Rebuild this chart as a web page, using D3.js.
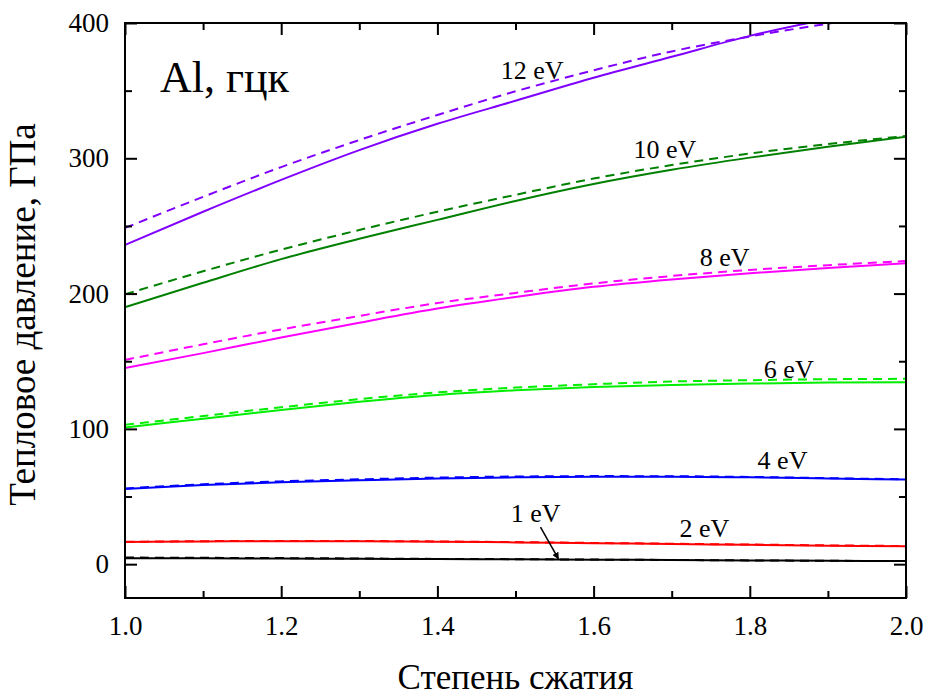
<!DOCTYPE html>
<html>
<head>
<meta charset="utf-8">
<script src="https://cdn.jsdelivr.net/npm/d3@7"></script>
<style>
  body { margin: 0; background: #fff; }
  text { font-family: "Times New Roman", Times, "DejaVu Serif"; }
</style>
</head>
<body>
<div id="chart"></div>
<script>
// Compression ratio (x) and thermal pressure in GPa (y)
const compression = [1.0, 1.1, 1.2, 1.3, 1.4, 1.5, 1.6, 1.7, 1.8, 1.9, 2.0];

const p1eV       = [4.3, 4.3, 4.2, 4.0, 3.8, 3.6, 3.3, 3.1, 2.8, 2.5, 2.3];
const p1eVDash   = [4.9, 4.7, 4.5, 4.2, 3.9, 3.7, 3.4, 3.1, 2.8, 2.5, 2.3];
const p2eV       = [16.3, 16.8, 17.0, 16.9, 16.6, 16.1, 15.5, 14.9, 14.3, 13.7, 13.2];
const p2eVDash   = [16.5, 17.0, 17.2, 17.1, 16.8, 16.3, 15.7, 15.1, 14.5, 13.9, 13.4];
const p4eV       = [55.5, 58.5, 60.5, 62.0, 63.3, 64.2, 64.6, 64.6, 64.2, 63.4, 62.5];
const p4eVDash   = [56.0, 59.0, 61.2, 62.7, 64.0, 64.8, 65.1, 65.0, 64.5, 63.6, 62.7];
const p6eV       = [101, 107.5, 114, 120, 125, 128.5, 131, 132.5, 133.5, 134.2, 134.5];
const p6eVDash   = [103, 109.5, 116, 122, 127, 130.5, 133, 135, 136, 136.7, 137];
const p8eV       = [145, 156, 167.5, 178.5, 189, 197.5, 205, 210.5, 215, 219, 222.5];
const p8eVDash   = [151, 162.5, 173.5, 183.5, 193, 200.5, 207.5, 213, 217.5, 221, 224];
const p10eV      = [190, 208, 225.5, 240.5, 254.5, 268.5, 281, 291.5, 300.5, 308.5, 316];
const p10eVDash  = [199.5, 216.5, 232.5, 247, 260.5, 273, 285, 295, 303.5, 310.5, 316.5];
const p12eV      = [236, 260.5, 284, 306, 325.5, 342.5, 359.5, 375, 390.5, 403, 415];
const p12eVDash  = [248.5, 271.5, 293.5, 313.5, 332, 349.5, 365, 379, 390, 399.5, 408];

const xTicks = [1.0, 1.2, 1.4, 1.6, 1.8, 2.0];
const xMinor = [1.1, 1.3, 1.5, 1.7, 1.9];
const yTicks = [0, 100, 200, 300, 400];
const yMinor = [50, 150, 250, 350];

// series list: [values, colour, dashed]
const series = [
    [p1eV, '#000000', false], [p1eVDash, '#000000', true],
    [p2eV, '#ff0000', false], [p2eVDash, '#ff0000', true],
    [p4eV, '#0000ff', false], [p4eVDash, '#0000ff', true],
    [p6eV, '#00ee00', false], [p6eVDash, '#00ee00', true],
    [p8eV, '#ff00ff', false], [p8eVDash, '#ff00ff', true],
    [p10eV, '#008000', false], [p10eVDash, '#008000', true],
    [p12eV, '#8000ff', false], [p12eVDash, '#8000ff', true]
];

// curve labels in data coordinates (left edge, baseline)
const labels = [
    { text: '12 eV', x: 1.481, y: 358.7 },
    { text: '10 eV', x: 1.651, y: 300.4 },
    { text: '8 eV', x: 1.736, y: 220.7 },
    { text: '6 eV', x: 1.818, y: 137.3 },
    { text: '4 eV', x: 1.810, y: 70.1 },
    { text: '2 eV', x: 1.710, y: 19.9 },
    { text: '1 eV', x: 1.494, y: 31.0 }
];

const width = 928, height = 697;
const svg = d3.select('#chart').append('svg')
    .attr('width', width)
    .attr('height', height);

const x = d3.scaleLinear().domain([1.0, 2.0]).range([125, 906]);
const y = d3.scaleLinear().domain([-25, 400]).range([598, 23]);

svg.append('defs').append('clipPath').attr('id', 'plot-clip')
    .append('rect')
    .attr('x', x(1.0)).attr('y', y(400))
    .attr('width', x(2.0) - x(1.0)).attr('height', y(-25) - y(400));

svg.append('defs').append('marker')
    .attr('id', 'arrow')
    .attr('viewBox', '0 0 10 10')
    .attr('refX', 9).attr('refY', 5)
    .attr('markerWidth', 7).attr('markerHeight', 7)
    .attr('markerUnits', 'userSpaceOnUse')
    .attr('orient', 'auto')
    .append('path').attr('d', 'M0,0 L10,5 L0,10 z').attr('fill', '#000');

// Lines
const line = d3.line()
    .x((d, i) => x(compression[i]))
    .y(d => y(d))
    .curve(d3.curveMonotoneX);

svg.append('g').attr('clip-path', 'url(#plot-clip)')
    .selectAll('path')
    .data(series)
    .enter()
    .append('path')
    .attr('d', d => line(d[0]))
    .attr('fill', 'none')
    .attr('stroke', d => d[1])
    .attr('stroke-width', 2)
    .attr('stroke-dasharray', d => d[2] ? '9,6' : null);

// Axes (ticks point inward on all four sides)
function styleAxis(g) {
    g.attr('font-size', 27);
    g.select('.domain').remove();
    g.selectAll('.tick line').attr('stroke', '#000').attr('stroke-width', 2);
    g.selectAll('.tick text').attr('fill', '#000');
}

svg.append('g')
    .attr('transform', `translate(0,${y(-25)})`)
    .call(d3.axisBottom(x).tickValues(xTicks).tickSize(-12).tickPadding(18).tickFormat(d3.format('.1f')))
    .call(styleAxis);
svg.append('g')
    .attr('transform', `translate(0,${y(-25)})`)
    .call(d3.axisBottom(x).tickValues(xMinor).tickSize(-7).tickFormat(''))
    .call(styleAxis);
svg.append('g')
    .attr('transform', `translate(0,${y(400)})`)
    .call(d3.axisTop(x).tickValues(xTicks).tickSize(-12).tickFormat(''))
    .call(styleAxis);
svg.append('g')
    .attr('transform', `translate(0,${y(400)})`)
    .call(d3.axisTop(x).tickValues(xMinor).tickSize(-7).tickFormat(''))
    .call(styleAxis);

svg.append('g')
    .attr('transform', `translate(${x(1.0)},0)`)
    .call(d3.axisLeft(y).tickValues(yTicks).tickSize(-12).tickPadding(16))
    .call(styleAxis);
svg.append('g')
    .attr('transform', `translate(${x(1.0)},0)`)
    .call(d3.axisLeft(y).tickValues(yMinor).tickSize(-7).tickFormat(''))
    .call(styleAxis);
svg.append('g')
    .attr('transform', `translate(${x(2.0)},0)`)
    .call(d3.axisRight(y).tickValues(yTicks).tickSize(-12).tickFormat(''))
    .call(styleAxis);
svg.append('g')
    .attr('transform', `translate(${x(2.0)},0)`)
    .call(d3.axisRight(y).tickValues(yMinor).tickSize(-7).tickFormat(''))
    .call(styleAxis);

// Frame
svg.append('rect')
    .attr('x', x(1.0)).attr('y', y(400))
    .attr('width', x(2.0) - x(1.0)).attr('height', y(-25) - y(400))
    .attr('fill', 'none')
    .attr('stroke', '#000')
    .attr('stroke-width', 2);

// Curve labels
svg.selectAll('.curve-label')
    .data(labels)
    .enter()
    .append('text')
    .attr('class', 'curve-label')
    .attr('x', d => x(d.x))
    .attr('y', d => y(d.y))
    .attr('font-size', 26)
    .text(d => d.text);

// Arrow for 1 eV
svg.append('line')
    .attr('x1', x(1.532)).attr('y1', y(27.3))
    .attr('x2', x(1.555)).attr('y2', y(3.9))
    .attr('stroke', '#000')
    .attr('stroke-width', 1.5)
    .attr('marker-end', 'url(#arrow)');

// Material label
svg.append('text')
    .attr('x', 160)
    .attr('y', 92)
    .attr('font-size', 44)
    .text('Al, гцк');

// Axis titles
svg.append('text')
    .attr('x', (x(1.0) + x(2.0)) / 2)
    .attr('y', 689)
    .attr('text-anchor', 'middle')
    .attr('font-size', 35)
    .text('Степень сжатия');

svg.append('text')
    .attr('transform', `translate(35,${(y(400) + y(-25)) / 2 + 4}) rotate(-90)`)
    .attr('text-anchor', 'middle')
    .attr('font-size', 37)
    .text('Тепловое давление, ГПа');
</script>
</body>
</html>
